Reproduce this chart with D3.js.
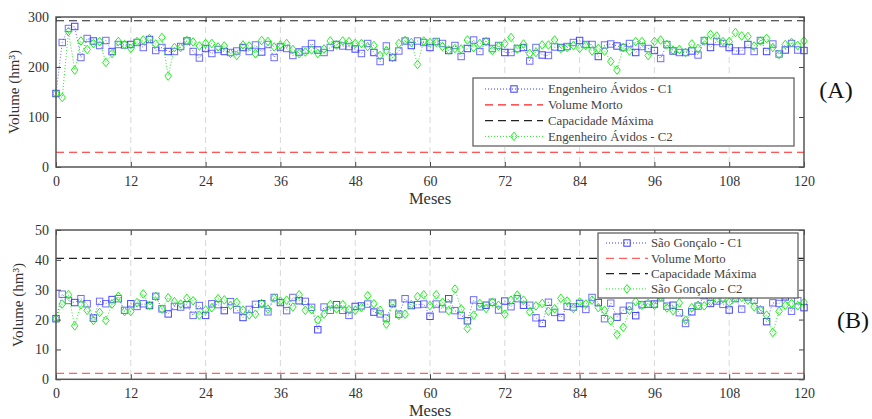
<!DOCTYPE html>
<html><head><meta charset="utf-8">
<script src="https://cdn.jsdelivr.net/npm/d3@7"></script>
<style>
body{margin:0;background:#fff;}
svg text{font-family:"Liberation Serif","Times New Roman",serif !important;}
</style></head><body>
<svg id="chart" width="872" height="419"></svg>
<script>
const months = d3.range(0, 121);
const xTicks = [0,12,24,36,48,60,72,84,96,108,120];
const yTicksA = [0,100,200,300];
const yTicksB = [0,10,20,30,40,50];

const eaC1 = [147,249,277,281,219,257,252,243,253,231,245,244,245,249,239,255,233,239,231,231,241,252,231,218,237,227,235,231,229,232,239,231,244,230,245,219,240,237,223,230,
234,247,234,229,239,245,242,241,236,227,247,229,211,242,219,232,252,243,252,249,239,251,247,233,243,221,237,254,231,251,237,243,229,229,237,239,212,239,224,223,
240,239,241,249,253,245,245,221,244,246,242,239,247,229,241,237,233,217,245,232,229,229,232,224,253,239,251,247,239,232,232,245,231,253,231,246,226,234,247,234,233];
const eaC2 = [147,139,271,194,252,235,247,251,209,227,251,245,237,251,254,257,246,259,182,239,239,253,250,242,247,247,240,242,227,223,244,242,227,253,251,240,244,247,235,227,
230,234,227,236,252,244,252,251,247,247,241,243,223,233,219,247,253,249,205,252,249,249,241,234,237,236,254,239,247,251,233,241,247,259,236,246,227,229,244,244,
254,237,239,243,237,243,232,237,232,211,194,239,232,251,251,223,251,254,245,234,235,229,246,237,252,265,262,251,251,269,262,261,242,252,257,239,225,245,249,243,252];
const sgC1 = [20.3,28.5,26.4,25.7,27.0,25.3,20.5,26.1,25.3,26.7,27.0,23.1,25.3,24.4,25.3,24.7,27.8,23.6,21.9,24.4,24.2,25.0,21.4,24.7,21.4,25.3,25.0,23.0,26.0,23.3,20.7,23.4,25.1,25.3,22.6,27.4,25.7,23.0,27.4,26.3,
26.1,24.1,16.6,24.2,23.1,25.0,23.1,21.4,24.4,24.6,25.2,22.5,21.9,20.5,25.5,21.8,27.0,24.7,25.0,25.2,21.1,25.2,23.6,27.0,23.0,21.4,19.6,26.6,24.3,24.8,25.8,23.2,26.2,24.3,27.0,24.8,24.8,20.6,18.7,25.8,
22.4,20.7,24.4,24.2,25.4,23.4,27.4,25.7,20.3,25.5,20.8,23.1,24.5,21.3,25.0,25.1,25.2,27.3,24.5,24.8,22.3,18.7,22.6,24.5,28.0,25.4,26.2,25.1,23.2,27.0,23.5,27.6,26.5,23.2,19.3,25.6,25.4,27.6,22.8,26.3,24.0];
const sgC2 = [20.3,25.2,28.3,17.9,25.0,23.1,19.7,22.4,19.7,25.2,27.8,22.7,22.7,25.7,28.6,24.8,27.8,23.5,27.3,26.0,25.2,27.1,26.3,21.5,23.2,24.0,27.0,26.6,24.8,25.8,23.2,21.6,21.8,25.4,23.5,27.2,26.2,26.5,24.2,28.3,
23.1,23.3,19.9,21.8,25.0,23.6,25.0,23.3,23.1,24.1,28.0,25.3,23.1,18.5,25.3,21.4,21.8,25.0,27.7,28.3,24.7,28.3,25.8,23.0,30.2,23.6,17.0,21.5,25.4,23.7,25.8,24.8,21.8,26.5,28.2,26.5,22.6,24.6,25.4,22.8,
23.6,27.1,26.2,23.7,25.9,25.2,26.5,24.0,23.1,19.6,15.0,17.4,23.1,26.0,24.8,25.4,24.8,27.6,23.9,23.0,25.6,19.8,24.0,24.8,24.6,26.0,26.8,27.0,25.8,27.5,27.5,26.5,24.3,23.3,21.5,15.7,22.8,24.8,25.4,24.6,25.8];

const eaDead = 29.5, eaCap = 292.5;
const sgDead = 2.0, sgCap = 40.5;
const legendA = ["Engenheiro Ávidos - C1","Volume Morto","Capacidade Máxima","Engenheiro Ávidos - C2"];
const legendB = ["São Gonçalo - C1","Volume Morto","Capacidade Máxima","São Gonçalo - C2"];

const BLUE = "#3b3bff", GREEN = "#22ee22", RED = "#ff2020", BLACK = "#222";
const FONT = "Liberation Serif";
const svg = d3.select("#chart");

function diamondPath(cx, cy){ return `M${cx},${cy-4.3}L${cx+3.3},${cy}L${cx},${cy+4.3}L${cx-3.3},${cy}Z`; }

function panel(opts){
  const {top, bottom, yMax, yTicks, c1, c2, dead, cap, deadColor, legend, lg, tag, tagPos, xLabelY, yLabelPos} = opts;
  const x = d3.scaleLinear().domain([0,120]).range([56,804]);
  const y = d3.scaleLinear().domain([0,yMax]).range([bottom, top]);
  const g = svg.append("g").attr("font-family", FONT);
  g.selectAll(".grid").data(xTicks.slice(1,-1)).join("line")
    .attr("x1", d=>x(d)).attr("x2", d=>x(d)).attr("y1", top).attr("y2", bottom)
    .attr("stroke","#d8d8d8").attr("stroke-dasharray","6,4").attr("stroke-width",1);
  const ax = g.append("g").attr("transform",`translate(0,${bottom})`)
    .call(d3.axisBottom(x).tickValues(xTicks).tickSize(-5).tickPadding(9).tickFormat(d3.format("d")));
  const ay = g.append("g").attr("transform",`translate(56,0)`)
    .call(d3.axisLeft(y).tickValues(yTicks).tickSize(-5).tickPadding(7).tickFormat(d3.format("d")));
  const axT = g.append("g").attr("transform",`translate(0,${top})`)
    .call(d3.axisTop(x).tickValues(xTicks).tickSize(-5).tickFormat(""));
  const ayR = g.append("g").attr("transform",`translate(804,0)`)
    .call(d3.axisRight(y).tickValues(yTicks).tickSize(-5).tickFormat(""));
  [ax,ay,axT,ayR].forEach(a=>{
    a.attr("font-family", FONT).attr("font-size", 14);
    a.select(".domain").remove();
    a.selectAll(".tick line").attr("stroke","#444");
    a.selectAll("text").attr("fill","#333").attr("font-family", FONT).attr("font-size", 14);
  });
  const line = d3.line().x((d,i)=>x(months[i])).y(d=>y(d));
  g.append("path").datum(c1).attr("d",line).attr("fill","none").attr("stroke",BLUE)
    .attr("stroke-width",1).attr("stroke-dasharray","1,2").attr("opacity",0.8);
  g.selectAll(".sq").data(c1).join("rect")
    .attr("x",(d,i)=>x(months[i])-3.2).attr("y",d=>y(d)-3.2).attr("width",6.4).attr("height",6.4)
    .attr("fill","none").attr("stroke",BLUE).attr("stroke-width",1).attr("opacity",(d,i)=>i%3===0?0.95:0.75);
  g.append("line").attr("x1",x(0)).attr("x2",x(120)).attr("y1",y(dead)).attr("y2",y(dead))
    .attr("stroke",deadColor).attr("stroke-width",1.2).attr("stroke-dasharray","8,5");
  g.append("line").attr("x1",x(0)).attr("x2",x(120)).attr("y1",y(cap)).attr("y2",y(cap))
    .attr("stroke",BLACK).attr("stroke-width",1.2).attr("stroke-dasharray","8,5");
  g.append("path").datum(c2).attr("d",line).attr("fill","none").attr("stroke",GREEN)
    .attr("stroke-width",1).attr("stroke-dasharray","1,2");
  g.selectAll(".dm").data(c2).join("path")
    .attr("d",(d,i)=>diamondPath(x(months[i]), y(d)))
    .attr("fill","none").attr("stroke",GREEN).attr("stroke-width",1);
  g.append("rect").attr("x",56).attr("y",top).attr("width",748).attr("height",bottom-top)
    .attr("fill","none").attr("stroke","#555").attr("stroke-width",1.5);
  const lgG = g.append("g");
  lgG.append("rect").attr("x",lg.x).attr("y",lg.y).attr("width",lg.w).attr("height",lg.h)
    .attr("fill","#fff").attr("stroke","#555").attr("stroke-width",1.2);
  const styles = [
    {c:BLUE, dash:"1,2", m:"sq"},
    {c:deadColor, dash:"8,5", m:null},
    {c:BLACK, dash:"8,5", m:null},
    {c:GREEN, dash:"1,2", m:"dm"}];
  legend.forEach((t,i)=>{
    const yy = lg.y + lg.row0 + i*lg.dy;
    lgG.append("line").attr("x1",lg.l1).attr("x2",lg.l2).attr("y1",yy).attr("y2",yy)
      .attr("stroke",styles[i].c).attr("stroke-width", styles[i].m?1:1.2).attr("stroke-dasharray",styles[i].dash);
    const mx = (lg.l1+lg.l2)/2;
    if(styles[i].m==="sq") lgG.append("rect").attr("x",mx-3.2).attr("y",yy-3.2).attr("width",6.4).attr("height",6.4)
      .attr("fill","none").attr("stroke",BLUE);
    if(styles[i].m==="dm") lgG.append("path").attr("d",diamondPath(mx,yy)).attr("fill","none").attr("stroke",GREEN);
    lgG.append("text").attr("x",lg.tx).attr("y",yy).attr("dy","0.35em").attr("fill","#444")
      .attr("font-family", FONT).attr("font-size", 12.8).text(t);
  });
  g.append("text").attr("x",430).attr("y",xLabelY).attr("text-anchor","middle").attr("fill","#333")
    .attr("font-size",16.5).text("Meses");
  g.append("text").attr("transform",`translate(${yLabelPos[0]},${yLabelPos[1]}) rotate(-90)`)
    .attr("text-anchor","middle").attr("fill","#333").attr("font-size",15).text("Volume (hm³)");
  g.append("text").attr("x",tagPos[0]).attr("y",tagPos[1]).attr("text-anchor","middle").attr("dy","0.35em")
    .attr("fill","#111").attr("font-size",24).text(tag);
}

panel({top:17, bottom:167, yMax:300, yTicks:yTicksA, c1:eaC1, c2:eaC2, dead:eaDead, cap:eaCap, deadColor:RED,
  legend:legendA, lg:{x:473,y:78,w:321,h:68,row0:11,dy:15.8,l1:485,l2:543,tx:548},
  tag:"(A)", tagPos:[836,90], xLabelY:204, yLabelPos:[19,92]});
panel({top:230, bottom:379.3, yMax:50, yTicks:yTicksB, c1:sgC1, c2:sgC2, dead:sgDead, cap:sgCap, deadColor:"#ff6060",
  legend:legendB, lg:{x:598,y:233,w:200,h:65,row0:10,dy:15.3,l1:606,l2:648,tx:651},
  tag:"(B)", tagPos:[853,320], xLabelY:416, yLabelPos:[23,305]});
</script>
</body></html>
